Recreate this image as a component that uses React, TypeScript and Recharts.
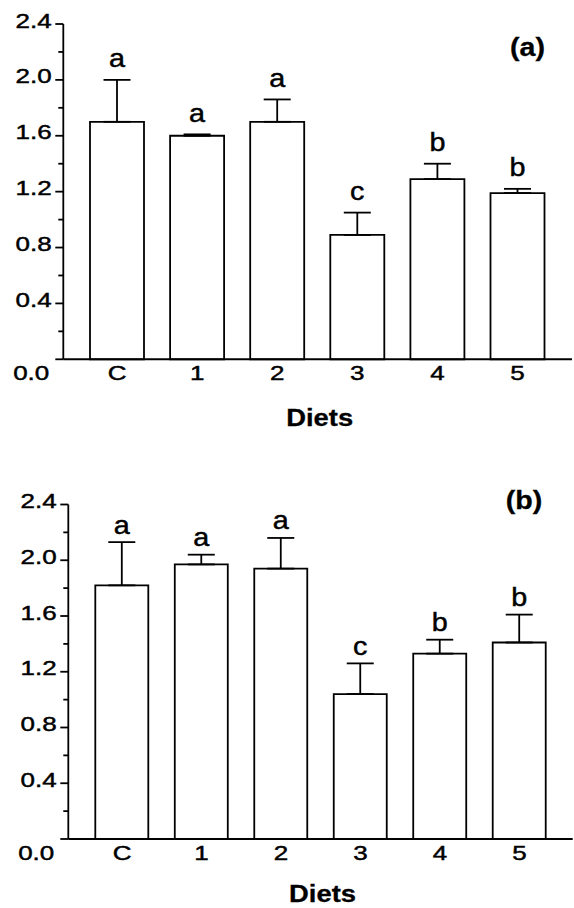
import React from 'react';
import { BarChart, Bar, XAxis, YAxis, ErrorBar, LabelList, Label, Customized } from 'recharts';

const diets = ['C', '1', '2', '3', '4', '5'];
const meansA = [1.7, 1.6, 1.7, 0.89, 1.29, 1.19];
const sdA = [0.3, 0.01, 0.16, 0.16, 0.11, 0.03];
const lettersA = ['a', 'a', 'a', 'c', 'b', 'b'];
const meansB = [1.82, 1.97, 1.94, 1.04, 1.33, 1.41];
const sdB = [0.31, 0.07, 0.22, 0.22, 0.1, 0.2];
const lettersB = ['a', 'a', 'a', 'c', 'b', 'b'];
const yTicks = [0, 0.2, 0.4, 0.6, 0.8, 1.0, 1.2, 1.4, 1.6, 1.8, 2.0, 2.2, 2.4];
const majorTicks = [0, 0.4, 0.8, 1.2, 1.6, 2.0, 2.4];
const xTitle = 'Diets';

const FONT = '"Liberation Sans", Arial, Helvetica, sans-serif';

const SText = (props: {
  x: number;
  y: number;
  sx?: number;
  anchor?: 'start' | 'middle' | 'end';
  size: number;
  bold?: boolean;
  children: React.ReactNode;
}) => (
  <text
    transform={`translate(${props.x},${props.y}) scale(${props.sx ?? 1},1)`}
    x={0}
    y={0}
    textAnchor={props.anchor ?? 'middle'}
    fontSize={props.size}
    fontWeight={props.bold ? 'bold' : 'normal'}
    fontFamily={FONT}
    fill="#000"
    stroke="#000"
    strokeWidth={props.bold ? 0.3 : 0.45}
  >
    {props.children}
  </text>
);

const YTick = (props: any) => {
  const { x, y, payload } = props;
  const v = payload.value;
  const major = majorTicks.some((m) => Math.abs(m - v) < 1e-6);
  return (
    <g>
      <line x1={x - (major ? 8 : 5)} x2={x} y1={y} y2={y} stroke="#000" strokeWidth={1.8} />
      {major && (
        <SText x={v === 0 ? x - 14 : x - 11.6} y={v === 0 ? y + 20.7 : y + 3.5} sx={1.3} anchor="end" size={20}>
          {v.toFixed(1)}
        </SText>
      )}
    </g>
  );
};

const makeXTick = (dy: number) => (props: any) => {
  const { x, y, payload } = props;
  return (
    <SText x={x} y={y + dy} sx={1.3} anchor="middle" size={20}>
      {payload.value}
    </SText>
  );
};

type PanelProps = {
  means: number[];
  sds: number[];
  letters: string[];
  tag: string;
  top: number;
  marginTop: number;
  marginBottom: number;
  yAxisWidth: number;
  marginRight: number;
  padL: number;
  padR: number;
  barSize: number;
  letterGap: number;
  titleOffset: number;
  tickDy: number;
  tagX: number;
  tagY: number;
};

const Panel = (p: PanelProps) => {
  const data = diets.map((d, i) => ({
    cat: d,
    mean: p.means[i],
    err: [0, p.sds[i]],
    letter: p.letters[i],
  }));
  const xAxisHeight = 60;
  const XTick = makeXTick(p.tickDy);
  return (
    <div style={{ position: 'absolute', left: 0, top: p.top, width: 574, height: 454 }}>
      <BarChart
        width={574}
        height={454}
        data={data}
        margin={{ top: p.marginTop, right: p.marginRight, bottom: p.marginBottom, left: 0 }}
        barSize={p.barSize}
      >
        <YAxis
          type="number"
          domain={[0, 2.4]}
          ticks={yTicks}
          interval={0}
          width={p.yAxisWidth}
          tickSize={0}
          tickMargin={0}
          tickLine={false}
          axisLine={{ stroke: '#000', strokeWidth: 1.8 }}
          tick={<YTick />}
        />
        <XAxis
          dataKey="cat"
          height={xAxisHeight}
          padding={{ left: p.padL, right: p.padR }}
          tickSize={0}
          tickMargin={0}
          tickLine={false}
          axisLine={{ stroke: '#000', strokeWidth: 2 }}
          tick={<XTick />}
          interval={0}
        >
          <Label
            content={(lp: any) => {
              const vb = lp.viewBox || {};
              return (
                <SText x={vb.x + vb.width / 2 + 2} y={vb.y + p.titleOffset} sx={1.14} anchor="middle" size={24} bold>
                  {xTitle}
                </SText>
              );
            }}
          />
        </XAxis>
        <Bar dataKey="mean" fill="#fff" stroke="#000" strokeWidth={1.8} isAnimationActive={false}>
          <ErrorBar dataKey="err" direction="y" width={13.5} stroke="#000" strokeWidth={1.8} />
          <LabelList
            dataKey="letter"
            content={(lp: any) => {
              const i = lp.index;
              const x = Number(lp.x);
              const y = Number(lp.y);
              const w = Number(lp.width);
              const h = Number(lp.height);
              const pxPerUnit = h / p.means[i];
              const errTop = y - p.sds[i] * pxPerUnit;
              return (
                <SText x={x + w / 2} y={errTop - p.letterGap} sx={1.15} anchor="middle" size={25}>
                  {lp.value}
                </SText>
              );
            }}
          />
        </Bar>
        <Customized
          component={() => (
            <SText x={p.tagX} y={p.tagY} sx={1.1} anchor="middle" size={26} bold>
              {p.tag}
            </SText>
          )}
        />
      </BarChart>
    </div>
  );
};

export default function App() {
  return (
    <div style={{ position: 'absolute', left: 0, top: 0, width: 574, height: 908, background: '#fff' }}>
      <Panel
        means={meansA}
        sds={sdA}
        letters={lettersA}
        tag="(a)"
        top={0}
        marginTop={24}
        marginBottom={454 - 359.3 - 60}
        yAxisWidth={63.3}
        marginRight={2}
        padL={13.7}
        padR={14.4}
        barSize={54}
        letterGap={12.5}
        titleOffset={66.4}
        tickDy={21}
        tagX={527.5}
        tagY={56}
      />
      <Panel
        means={meansB}
        sds={sdB}
        letters={lettersB}
        tag="(b)"
        top={454}
        marginTop={50.5}
        marginBottom={454 - 385 - 60}
        yAxisWidth={68.3}
        marginRight={1.3}
        padL={14}
        padR={13.5}
        barSize={53}
        letterGap={8.5}
        titleOffset={63}
        tickDy={20.5}
        tagX={524}
        tagY={55}
      />
    </div>
  );
}
